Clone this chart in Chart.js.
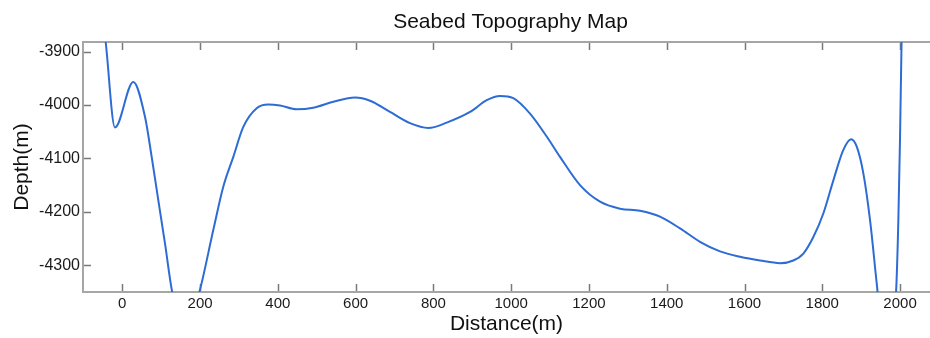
<!DOCTYPE html>
<html>
<head>
<meta charset="utf-8">
<script src="https://cdn.jsdelivr.net/npm/chart.js@4/dist/chart.umd.min.js"></script>
<style>
  html, body { margin: 0; padding: 0; background: #fff; }
  #wrap { width: 930px; height: 338px; }
</style>
</head>
<body>
<div id="wrap"><canvas id="seabedChart"></canvas></div>
<script>
// profile (distance in m, depth in m)
const distance = [-48, -42.7, -18.8, 28.3, 58.4, 75.6, 92.6, 109.8, 128.6, 162,
  198, 234, 259.7, 285.5, 311.2, 345.6, 375.5, 405.6, 448.5, 491.2,
  542.6, 598.4, 637, 688.4, 739.9, 786.9, 834.2, 894.2, 937.1, 971.3,
  1005.5, 1048.5, 1091.4, 1125.6, 1177, 1228.5, 1279.9, 1331.3, 1382.8, 1434.2,
  1485.6, 1537.1, 1588.5, 1639.9, 1691.4, 1725.6, 1751.3, 1777, 1802.7, 1828.5,
  1854.2, 1874, 1888.7, 1905.6, 1922.9, 1940, 1965, 1989.7, 1995.6, 2000, 2003.9, 2005];
const depth = [-3850, -3882, -4042, -3957, -4022, -4097, -4178, -4259, -4351, -4430,
  -4351, -4234, -4153, -4097, -4041, -4006, -3999, -4001, -4008, -4005,
  -3994, -3986, -3992, -4013, -4034, -4043, -4033, -4013, -3991, -3983,
  -3987, -4016, -4059, -4097, -4150, -4181, -4194, -4198, -4209, -4231,
  -4256, -4274, -4284, -4291, -4296, -4291, -4278, -4247, -4203, -4141,
  -4084, -4064, -4078, -4128, -4216, -4334, -4500, -4351, -4216, -4059, -3882, -3850];

const xTicks = [0, 200, 400, 600, 800, 1000, 1200, 1400, 1600, 1800, 2000];
const yTicks = [-4300, -4200, -4100, -4000, -3900];
const chartTitle = 'Seabed Topography Map';

const FONT = '"Liberation Sans", Arial, sans-serif';

// MATLAB style box with ticks pointing inwards, title centred over the axes
const framePlugin = {
    id: 'frame',
    beforeDatasetsDraw(chart) {
        const { ctx, chartArea: a, scales } = chart;
        ctx.save();
        ctx.strokeStyle = '#7a7a7a';
        ctx.lineWidth = 1.5;
        ctx.beginPath();
        scales.x.ticks.forEach(t => {
            const px = Math.round(scales.x.getPixelForValue(t.value)) + 0.5;
            ctx.moveTo(px, a.bottom); ctx.lineTo(px, a.bottom - 8);
            ctx.moveTo(px, a.top); ctx.lineTo(px, a.top + 8);
        });
        scales.y.ticks.forEach(t => {
            const py = Math.round(scales.y.getPixelForValue(t.value)) + 0.5;
            ctx.moveTo(a.left, py); ctx.lineTo(a.left + 8, py);
        });
        ctx.stroke();
        ctx.strokeStyle = '#a6a6a6';
        ctx.lineWidth = 2;
        ctx.beginPath();
        ctx.moveTo(a.right + 2, a.top);
        ctx.lineTo(a.left, a.top);
        ctx.lineTo(a.left, a.bottom);
        ctx.lineTo(a.right + 2, a.bottom);
        ctx.stroke();

        ctx.fillStyle = '#111';
        ctx.font = '21px ' + FONT;
        ctx.textAlign = 'center';
        ctx.textBaseline = 'middle';
        ctx.fillText(chartTitle, (a.left + a.right) / 2 + 4, 22);
        ctx.restore();
    }
};

const ctx = document.getElementById('seabedChart').getContext('2d');
new Chart(ctx, {
    type: 'scatter',
    data: {
        datasets: [{
            data: distance.map((d, i) => ({ x: d, y: depth[i] })),
            showLine: true,
            borderColor: '#2c6cd4',
            borderWidth: 2,
            pointRadius: 0,
            cubicInterpolationMode: 'monotone'
        }]
    },
    options: {
        responsive: true,
        maintainAspectRatio: false,
        animation: false,
        layout: { padding: { top: 42, left: 0, right: 0, bottom: 0 } },
        plugins: {
            legend: { display: false },
            tooltip: { enabled: false },
            title: { display: false }
        },
        scales: {
            x: {
                type: 'linear',
                min: -101,
                max: 2077,
                afterBuildTicks: s => { s.ticks = xTicks.map(v => ({ value: v })); },
                afterFit: s => { s.height = 46; },
                grid: { display: false, drawTicks: false },
                border: { display: false },
                ticks: {
                    padding: 3,
                    maxRotation: 0,
                    color: '#1a1a1a',
                    font: { family: FONT, size: 15 },
                    callback: v => String(v)
                },
                title: {
                    display: true,
                    text: 'Distance(m)',
                    color: '#111',
                    font: { family: FONT, size: 21 },
                    padding: { top: 0, bottom: 1 }
                }
            },
            y: {
                min: -4350,
                max: -3882,
                afterBuildTicks: s => { s.ticks = yTicks.map(v => ({ value: v })); },
                afterFit: s => { s.width = 83; },
                grid: { display: false, drawTicks: false },
                border: { display: false },
                ticks: {
                    padding: 3,
                    color: '#1a1a1a',
                    font: { family: FONT, size: 16 },
                    callback: v => String(v)
                },
                title: {
                    display: true,
                    text: 'Depth(m)',
                    color: '#111',
                    font: { family: FONT, size: 21 },
                    padding: { top: 10, bottom: 0 }
                }
            }
        }
    },
    plugins: [framePlugin]
});
</script>
</body>
</html>
